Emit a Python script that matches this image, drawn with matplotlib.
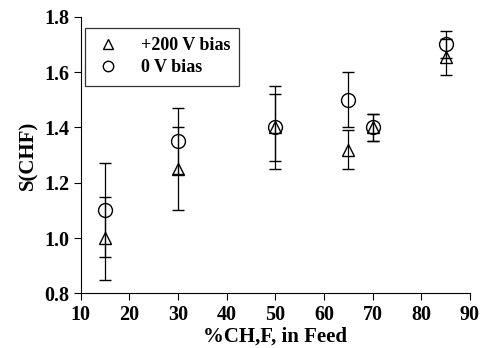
import matplotlib
matplotlib.use("Agg")
import matplotlib.pyplot as plt

# feed composition (%CH2F2) and selectivity values
feed_pct = [15, 30, 50, 65, 70, 85]

s_200v = [1.00, 1.25, 1.40, 1.32, 1.40, 1.655]
err_200v = [0.15, 0.15, 0.15, 0.07, 0.05, 0.065]

s_0v = [1.10, 1.35, 1.40, 1.50, 1.40, 1.70]
err_0v = [0.17, 0.12, 0.12, 0.10, 0.05, 0.05]

x_ticks = [10, 20, 30, 40, 50, 60, 70, 80, 90]
y_ticks = [0.8, 1.0, 1.2, 1.4, 1.6, 1.8]

plt.rcParams["font.family"] = ["Liberation Serif", "DejaVu Serif"]
plt.rcParams["font.weight"] = "bold"

fig = plt.figure(figsize=(4.84, 3.48), dpi=100)
ax = fig.add_axes([0.167, 0.157, 0.804, 0.795])

ax.errorbar(feed_pct, s_200v, yerr=err_200v, fmt="^", ms=9,
            mfc="none", mec="black", mew=1.0, ecolor="black",
            elinewidth=0.9, capsize=4, capthick=0.9, label="+200 V bias")
ax.errorbar(feed_pct, s_0v, yerr=err_0v, fmt="o", ms=10,
            mfc="none", mec="black", mew=1.0, ecolor="black",
            elinewidth=0.9, capsize=4, capthick=0.9, label="0 V bias")

ax.set_xlim(10, 90)
ax.set_ylim(0.8, 1.8)
ax.set_xticks(x_ticks)
ax.set_yticks(y_ticks)
ax.set_yticklabels([f"{v:.1f}" for v in y_ticks])
ax.tick_params(direction="out", length=5, width=0.8, labelsize=14.5)
for lab in ax.get_xticklabels() + ax.get_yticklabels():
    lab.set_fontweight("bold")

ax.spines["top"].set_visible(False)
ax.spines["right"].set_visible(False)

ax.set_xlabel("%CH,F, in Feed", fontsize=15, fontweight="bold", labelpad=1)
ax.set_ylabel("S(CHF)", fontsize=15, fontweight="bold", labelpad=4)

handles, labels = ax.get_legend_handles_labels()
handles = [h[0] for h in handles]
leg = ax.legend(handles, labels, loc="upper left", bbox_to_anchor=(0.01, 0.959),
                borderaxespad=0, prop={"size": 13, "weight": "bold"},
                frameon=True, fancybox=False, edgecolor="black",
                handlelength=1.6, handletextpad=1.0, borderpad=0.5,
                labelspacing=0.3, markerscale=0.75)
leg.get_frame().set_linewidth(0.9)

fig.savefig("out.png", dpi=100)
